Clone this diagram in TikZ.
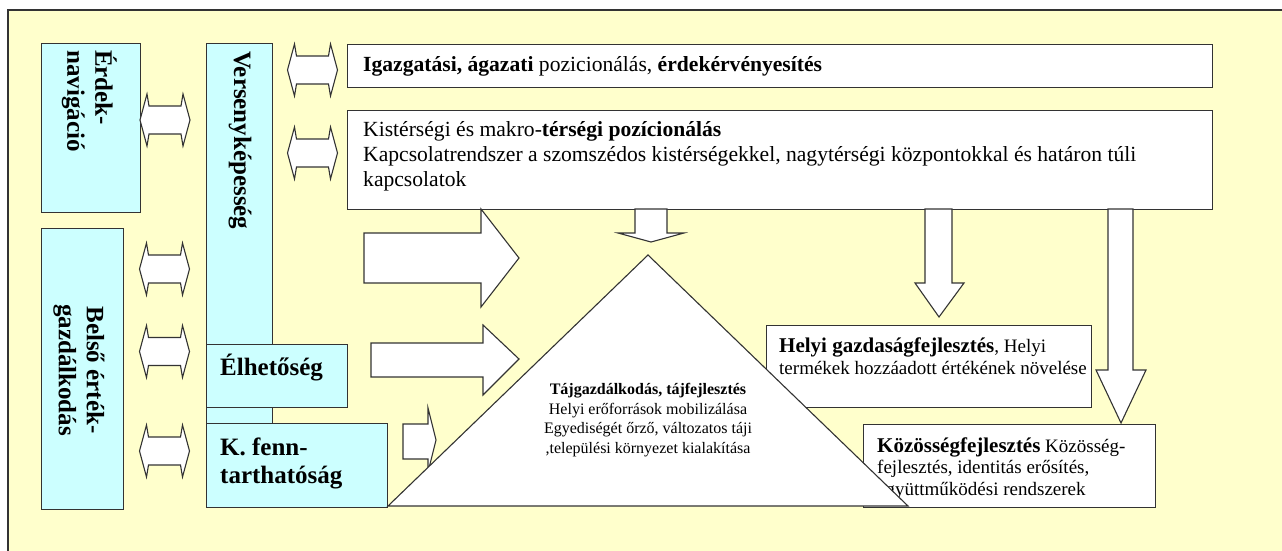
\documentclass[tikz,border=0pt]{standalone}
\usepackage{fontspec}
\setmainfont{Liberation Serif}
\definecolor{bgy}{HTML}{FFFFCC}
\definecolor{cy}{HTML}{CCFFFF}
\definecolor{ln}{HTML}{333333}
\tikzset{
  box/.style={draw=ln, line width=1.2pt, inner sep=0pt, anchor=north west},
  cbox/.style={box, fill=cy},
  wbox/.style={box, fill=white},
  blk/.style={draw=ln, line width=1.1pt, fill=white, line join=miter},
  lbl/.style={inner sep=0pt, font=\fontsize{25}{28}\selectfont\bfseries},
  txt/.style={inner sep=0pt, font=\fontsize{21.6}{25}\selectfont},
  smtxt/.style={inner sep=0pt, font=\fontsize{19}{21.5}\selectfont},
  tritxt/.style={inner sep=0pt, font=\fontsize{16}{19.5}\selectfont},
}
\newcommand\lrarr[2]{\draw[blk, shift={(#1,#2)}] (-25,0) -- (-18,-26) -- (-16,-14) -- (16,-14) -- (18,-26) -- (25,0) -- (18,26) -- (16,14) -- (-16,14) -- (-18,26) -- cycle;}
\begin{document}
\begin{tikzpicture}[x=1pt,y=-1pt]
\useasboundingbox (0,0) rectangle (1282,551);
\fill[white] (0,0) rectangle (1282,551);
\draw[fill=bgy, draw=black!80, line width=1.4pt] (8,10) rectangle (1300,570);

% left column boxes
\node[cbox, minimum width=99pt, minimum height=169pt] (erdek) at (41,43) {};
\node[lbl, rotate=-90, anchor=north west, align=left] (erdektxt) at (117,50) {Érdek-\\navigáció};
\node[cbox, minimum width=82pt, minimum height=281pt] (belso) at (41,228) {};
\node[lbl, rotate=-90, align=center] (belsotxt) at (79,370) {Belső érték-\\gazdálkodás};

\node[cbox, minimum width=66pt, minimum height=380pt] (versenyk) at (206,43) {};
\node[lbl, rotate=-90, anchor=west] (verstxt) at (240,51) {Versenyképesség};
\node[cbox, minimum width=141pt, minimum height=63pt] (elhet) at (206,344) {};
\node[lbl, anchor=base west] (elhettxt) at (220,375) {Élhetőség};
\node[cbox, minimum width=181pt, minimum height=84pt] (kfenn) at (206,423) {};
\node[lbl, anchor=base west, align=left] (kfenntxt) at (220,483) {K. fenn-\\tarthatóság};

% double arrows
\lrarr{165}{120}
\lrarr{312.5}{70}
\lrarr{312.5}{153}
\lrarr{164.5}{269}
\lrarr{164.5}{351.5}
\lrarr{164.5}{451}

% top boxes
\node[wbox, minimum width=865pt, minimum height=43pt] (igaz) at (347,44) {};
\node[txt, anchor=base west] (igaztxt) at (363,71) {\textbf{Igazgatási, ágazati} pozicionálás, \textbf{érdekérvényesítés}};
\node[wbox, minimum width=865pt, minimum height=99pt] (kister) at (347,110) {};
\node[txt, anchor=base west, align=left] (kistertxt) at (363,186) {Kistérségi és makro-\textbf{térségi pozícionálás}\\Kapcsolatrendszer a szomszédos kistérségekkel, nagytérségi központokkal és határon túli\\kapcsolatok};

% right boxes
\node[wbox, minimum width=325pt, minimum height=82pt] (helyi) at (766,325) {};
\node[smtxt, anchor=base west, align=left] (helyitxt) at (779,374) {{\fontsize{21}{21}\selectfont\bfseries Helyi gazdaságfejlesztés}, Helyi\\termékek hozzáadott értékének növelése};
\node[wbox, minimum width=292pt, minimum height=83pt] (kozos) at (863,424) {};
\node[smtxt, anchor=base west, align=left] (kozostxt) at (877,495) {{\fontsize{21}{21}\selectfont\bfseries Közösségfejlesztés} Közösség-\\fejlesztés, identitás erősítés,\\együttműködési rendszerek};

% block arrows right
\draw[blk] (364,233) -- (481,233) -- (481,209) -- (519,258) -- (481,307) -- (481,283) -- (364,283) -- cycle;
\draw[blk] (371,343) -- (483,343) -- (483,325) -- (519,359) -- (483,395) -- (483,377) -- (371,377) -- cycle;
\draw[blk] (403,424) -- (428,424) -- (428,408) -- (436,440) -- (428,472) -- (428,459) -- (403,459) -- cycle;

% block arrows down
\draw[blk] (635,209) -- (635,233) -- (618,233) -- (651,242) -- (684,233) -- (667,233) -- (667,209) -- cycle;
\draw[blk] (925,209) -- (925,283) -- (915,283) -- (939,317) -- (964,283) -- (952,283) -- (952,209) -- cycle;
\draw[blk] (1108,209) -- (1108,370) -- (1096,370) -- (1121,423) -- (1146,370) -- (1133,370) -- (1133,209) -- cycle;

% triangle
\draw[blk] (388,506) -- (648,255) -- (908,506) -- cycle;
\node[tritxt, anchor=base, align=center] (tajtxt) at (648,453) {\textbf{Tájgazdálkodás, tájfejlesztés}\\Helyi erőforrások mobilizálása\\Egyediségét őrző, változatos táji\\,települési környezet kialakítása};
\end{tikzpicture}
\end{document}
